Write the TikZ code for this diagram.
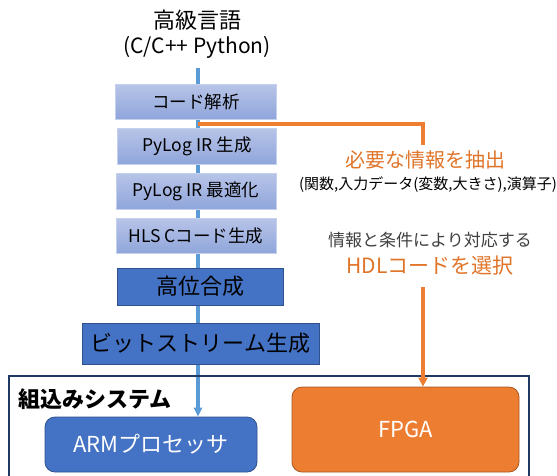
\documentclass[tikz,border=0pt]{standalone}
\usepackage{fontspec}
\setmainfont{Noto Sans CJK JP}
\usetikzlibrary{arrows.meta,backgrounds}
\definecolor{lblue}{HTML}{5B9BD5}
\definecolor{mblue}{HTML}{4472C4}
\definecolor{dblue}{HTML}{2F528F}
\definecolor{orng}{HTML}{ED7D31}
\definecolor{otext}{HTML}{E07428}
\definecolor{navy}{HTML}{1F3864}
\definecolor{gtop}{HTML}{B7C4E8}
\definecolor{gbot}{HTML}{8FA5DA}
\definecolor{gtxt}{HTML}{404040}
\tikzset{
  fs/.style={font=\fontsize{#1}{#1}\selectfont},
  gradbox/.style={draw=gtop!80!white, line width=0.8pt, top color=gtop, bottom color=gbot, text=black, inner sep=0pt, fs=17.5},
  solidbox/.style={draw=dblue, line width=0.8pt, fill=mblue, text=black, inner sep=0pt, fs=22},
  rbox/.style={rounded corners=10pt, line width=0.8pt, inner sep=0pt, text=white, fs=22},
  blueline/.style={draw=lblue, line width=3.5pt},
  orngline/.style={draw=orng, line width=3.8pt},
}
\begin{document}
\begin{tikzpicture}[x=1pt,y=-1pt]
\useasboundingbox (0,0) rectangle (557,475);
% title
\node[fs=22] (t1) at (197,20) {高級言語};
\node[fs=21] (t2) at (197,47) {(C/C++ Python)};
% flow boxes
\node[gradbox, minimum width=161pt, minimum height=35pt] (b1) at (196,102) {コード解析};
\node[gradbox, minimum width=159pt, minimum height=36pt] (b2) at (197,146.5) {PyLog IR 生成};
\node[gradbox, minimum width=160pt, minimum height=36pt] (b3) at (196,191.5) {PyLog IR 最適化};
\node[gradbox, minimum width=160pt, minimum height=35pt] (b4) at (196,236) {HLS Cコード生成};
\node[solidbox, minimum width=166pt, minimum height=37pt] (b5) at (200.5,286.5) {高位合成};
\node[solidbox, minimum width=237pt, minimum height=41pt] (b6) at (200.5,343.5) {ビットストリーム生成};
% system container
\node[draw=navy, line width=1.5pt, minimum width=520pt, minimum height=130pt, inner sep=0pt] (sys) at (269,441) {};
\node[font=\bfseries\fontsize{22}{22}\selectfont, anchor=west, inner sep=0pt] (syslbl) at (18,399) {組込みシステム};
\node[rbox, draw=dblue, fill=mblue, minimum width=212pt, minimum height=55pt] (arm) at (151,444.5) {ARMプロセッサ};
\node[rbox, draw=orng!70!black, fill=orng, minimum width=227pt, minimum height=85pt] (fpga) at (405.5,429.5) {FPGA};
% side labels
\node[text=otext, fs=20] (l1) at (425,160) {必要な情報を抽出};
\node[text=black, fs=15] (l2) at (428,185) {(関数,入力データ(変数,大きさ),演算子)};
\node[text=gtxt, fs=17] (l3) at (430,240) {情報と条件により対応する};
\node[text=otext, fs=21] (l4) at (430,266) {HDLコードを選択};
% connectors
\coordinate (btop) at (198,68);
\coordinate (ostart) at (198,124);
\coordinate (ocorner) at (423,124);
\coordinate (oend1) at (423,145);
\coordinate (omid) at (423,287);
\begin{pgfonlayer}{background}
\fill[white] (0,0) rectangle (557,475);
\draw[blueline, -{Triangle[length=9pt,width=8pt]}] (btop) -- (btop |- arm.north);
\end{pgfonlayer}
\draw[orngline] (ostart) -- (ocorner) -- (oend1);
\draw[orngline, -{Triangle[length=9pt,width=9pt]}] (omid) -- (omid |- fpga.north);
\end{tikzpicture}
\end{document}
